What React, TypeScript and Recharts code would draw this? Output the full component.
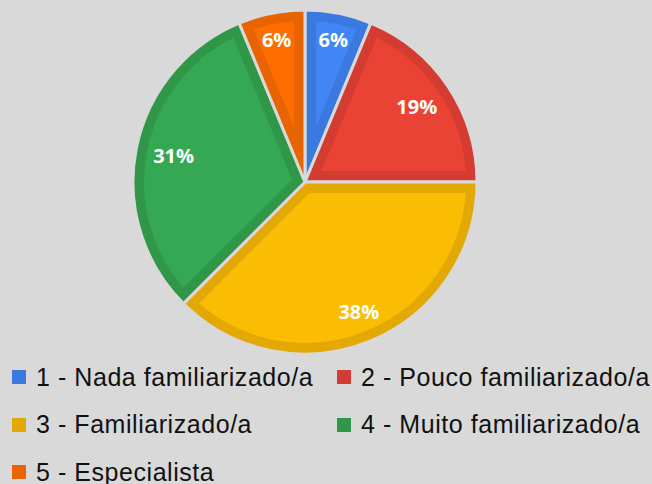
import { PieChart, Pie, Cell, Legend, Sector } from 'recharts'

const LABELS = [
  '1 - Nada familiarizado/a',
  '2 - Pouco familiarizado/a',
  '3 - Familiarizado/a',
  '4 - Muito familiarizado/a',
  '5 - Especialista',
]
const COUNTS = [1, 3, 6, 5, 1]
const FILLS = ['#4285f4', '#ea4335', '#fbbc04', '#34a853', '#ff6d01']
const DARKS = ['#3b79e0', '#d53c31', '#e3a902', '#2f9747', '#e86401']

const BG = '#d9d9d9'
const W = 652
const H = 484
const BAND = 11 // darker inner rim of each slice

const data = LABELS.map((name, i) => ({ name, value: COUNTS[i] }))

function renderSlice(props: any) {
  const { cx, cy, outerRadius, startAngle, endAngle, midAngle, percent, index } = props
  const RAD = Math.PI / 180
  const id = `slice-clip-${index}`
  const txt = `${Math.round(percent * 100)}%`
  const fs = 20
  const hw = (((txt.length - 1) * 0.572 + 0.84) * fs) / 2
  const hh = 7
  const ux = Math.cos(-midAngle * RAD)
  const uy = Math.sin(-midAngle * RAD)
  // push the text box out until its far corner sits near the rim
  const r = outerRadius * 0.9 - (hw * Math.abs(ux) + hh * Math.abs(uy))
  const geo = { cx, cy, innerRadius: 0, outerRadius, startAngle, endAngle }
  return (
    <g key={id}>
      <defs>
        <clipPath id={id}>
          <Sector {...geo} />
        </clipPath>
      </defs>
      <g clipPath={`url(#${id})`}>
        <Sector {...geo} fill="none" stroke={DARKS[index]} strokeWidth={BAND * 2} />
      </g>
      <Sector {...geo} fill="none" stroke={BG} strokeWidth={3} strokeLinejoin="miter" />
      <text
        x={cx + r * ux}
        y={cy + r * uy + hh}
        textAnchor="middle"
        fill="#fff"
        fontFamily="'Open Sans', sans-serif"
        fontWeight={700}
        fontSize={fs}
      >
        {txt}
      </text>
    </g>
  )
}

function renderLegend(props: any) {
  const payload: any[] = props.payload ?? []
  return (
    <div style={{ position: 'relative', width: W, height: 124 }}>
      {payload.map((item, i) => (
        <div
          key={item.value}
          style={{
            position: 'absolute',
            left: i % 2 === 0 ? 12 : 337,
            top: 10 + Math.floor(i / 2) * 47.5 - 7,
            height: 28,
            display: 'flex',
            alignItems: 'center',
            whiteSpace: 'nowrap',
          }}
        >
          <span style={{ width: 14, height: 14, background: DARKS[i], display: 'inline-block' }} />
          <span
            style={{
              marginLeft: 10,
              fontFamily: "'Liberation Sans', Arial, sans-serif",
              fontSize: 25,
              letterSpacing: 0.55,
              color: '#111',
            }}
          >
            {item.value}
          </span>
        </div>
      ))}
    </div>
  )
}

export default function App() {
  return (
    <div style={{ position: 'absolute', left: 0, top: 0, width: W, height: H, background: BG }}>
      <PieChart width={W} height={H} margin={{ top: 0, right: 0, bottom: 0, left: 0 }}>
        <Pie
          data={data}
          dataKey="value"
          nameKey="name"
          cx={305}
          cy={182}
          outerRadius={172}
          startAngle={90}
          endAngle={-270}
          stroke="none"
          label={renderSlice}
          labelLine={false}
          isAnimationActive={false}
        >
          {data.map((d, i) => (
            <Cell key={d.name} fill={FILLS[i]} />
          ))}
        </Pie>
        <Legend
          content={renderLegend}
          wrapperStyle={{ position: 'absolute', left: 0, top: 360, width: W, height: 124 }}
        />
      </PieChart>
    </div>
  )
}
